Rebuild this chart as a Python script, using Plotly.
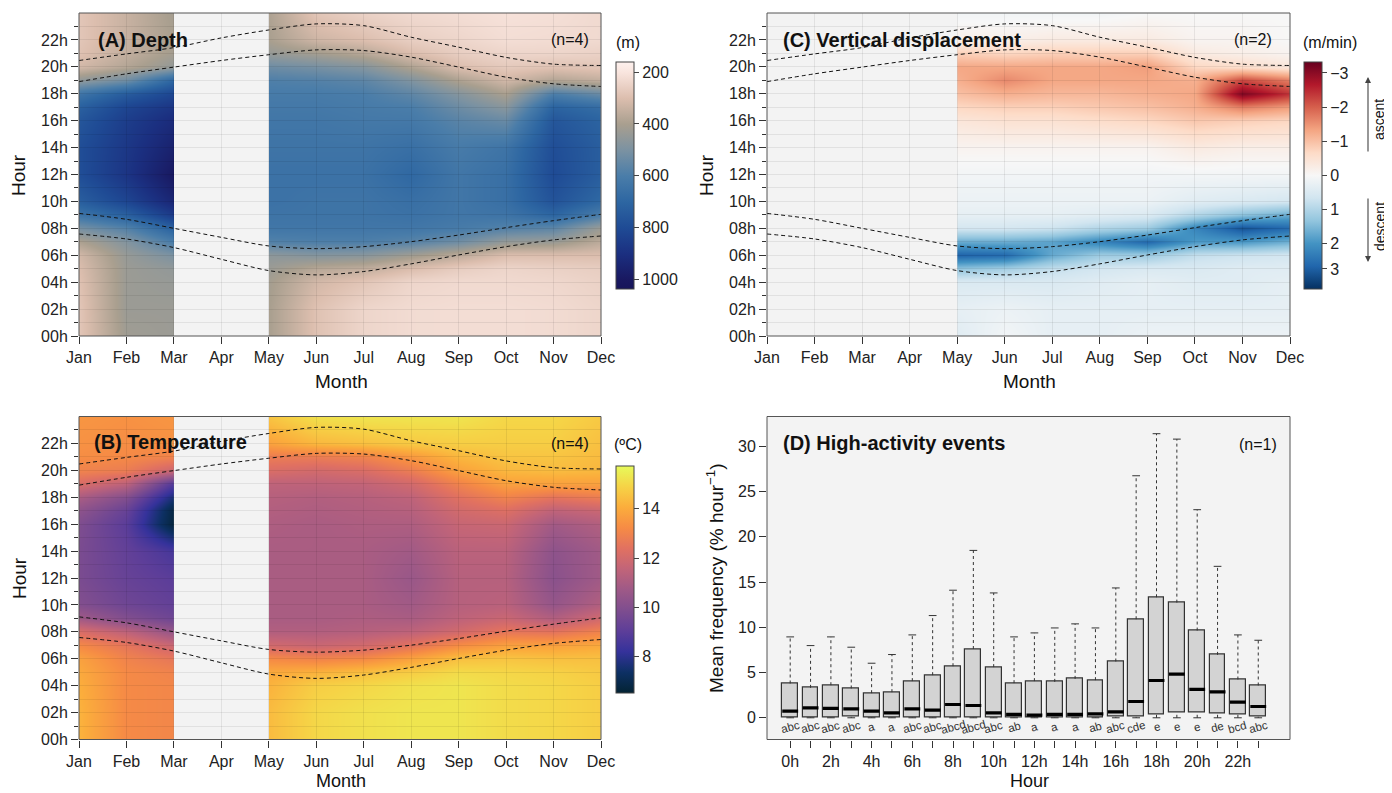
import plotly.graph_objects as go
from plotly.colors import diverging, cmocean

W, H = 1392, 793          # target window
OFF = 8                   # page margin around the figure
FW, FH = W - OFF, H - OFF # figure size
FONT = "Liberation Sans, Arial, Helvetica, sans-serif"
GRID = "rgba(0,0,0,0.07)"
BG = "#f3f3f3"

# ---------------- data ----------------
MONTHS = ["Jan", "Feb", "Mar", "Apr", "May", "Jun", "Jul", "Aug", "Sep", "Oct", "Nov", "Dec"]
MONTH_NUM = list(range(1, 13))
SEG1_MONTHS = [1, 2, 3]
SEG2_MONTHS = [5, 6, 7, 8, 9, 10, 11, 12]
HOURS = [0, 2, 4, 5, 6, 7, 8, 9, 10, 12, 14, 16, 17, 18, 19, 20, 21, 22, 24]
HOUR_TICKS = list(range(0, 24, 2))
HOUR_LABELS = ["%02dh" % h for h in HOUR_TICKS]

# twilight / sun curves (hour of day per month)
DUSK = [20.47, 20.96, 21.43, 22.15, 22.74, 23.19, 23.06, 22.2, 21.46, 20.7, 20.2, 20.1]
SUNSET = [18.9, 19.48, 19.98, 20.47, 20.9, 21.26, 21.21, 20.72, 19.98, 19.23, 18.74, 18.54]
DAWN = [9.11, 8.67, 8.0, 7.33, 6.69, 6.49, 6.64, 7.01, 7.5, 8.05, 8.57, 9.04]
SUNRISE = [7.58, 7.21, 6.57, 5.7, 4.86, 4.54, 4.79, 5.36, 6.02, 6.64, 7.14, 7.43]

# (A) depth (m): one row per month, values at HOURS
DEPTH_JAN_MAR = [
    [280, 280, 290, 300, 320, 390, 510, 640, 730, 790, 790, 760, 720, 640, 450, 320, 290, 280, 280],
    [420, 430, 430, 430, 440, 480, 580, 720, 820, 880, 870, 850, 820, 740, 520, 380, 350, 340, 340],
    [430, 430, 440, 450, 500, 600, 720, 860, 940, 1000, 960, 920, 880, 820, 700, 450, 410, 400, 410],
]
DEPTH_MAY_DEC = [
    [400, 400, 410, 430, 460, 580, 630, 640, 650, 650, 640, 630, 620, 610, 590, 530, 440, 400, 390],
    [290, 290, 320, 370, 480, 590, 630, 640, 640, 650, 640, 630, 620, 610, 580, 510, 410, 330, 280],
    [240, 240, 280, 350, 470, 590, 630, 640, 640, 650, 640, 620, 610, 600, 560, 480, 370, 300, 250],
    [225, 225, 240, 300, 420, 570, 630, 650, 660, 690, 660, 620, 600, 560, 490, 390, 300, 260, 230],
    [220, 220, 230, 260, 360, 520, 610, 630, 630, 630, 610, 570, 530, 480, 390, 300, 260, 240, 220],
    [220, 220, 230, 240, 300, 440, 580, 640, 660, 660, 640, 540, 470, 400, 320, 270, 240, 220, 210],
    [225, 225, 235, 250, 300, 430, 560, 700, 770, 800, 790, 760, 710, 600, 380, 290, 240, 225, 215],
    [240, 240, 250, 260, 300, 360, 430, 600, 690, 730, 730, 710, 670, 540, 350, 280, 250, 230, 230],
]

# (B) temperature (degC)
TEMP_JAN_MAR = [
    [14.2, 14.2, 14.1, 14.0, 13.8, 13.2, 12.2, 10.8, 10.0, 9.8, 9.8, 9.9, 10.3, 11.0, 12.2, 13.0, 13.3, 13.4, 13.5],
    [13.2, 13.2, 13.2, 13.2, 13.0, 12.6, 11.5, 10.0, 9.5, 9.3, 9.2, 9.0, 9.3, 10.0, 11.5, 12.8, 13.2, 13.3, 13.4],
    [13.1, 13.1, 13.1, 13.0, 12.6, 11.8, 10.5, 9.5, 9.2, 9.0, 8.6, 6.7, 6.8, 7.6, 8.8, 11.8, 13.0, 13.4, 13.5],
]
TEMP_MAY_DEC = [
    [14.4, 14.4, 14.2, 14.0, 13.2, 12.0, 11.2, 11.0, 11.0, 11.0, 11.0, 11.1, 11.2, 11.3, 11.5, 12.2, 12.8, 13.8, 14.6],
    [15.0, 15.0, 14.8, 14.2, 13.0, 11.8, 11.2, 11.0, 11.0, 11.0, 11.0, 11.0, 11.1, 11.2, 11.5, 12.0, 12.8, 14.3, 15.2],
    [15.2, 15.2, 15.0, 14.5, 13.2, 12.0, 11.3, 11.1, 11.0, 11.0, 11.0, 11.1, 11.2, 11.3, 11.6, 12.2, 13.0, 14.5, 15.3],
    [15.3, 15.3, 15.2, 14.8, 13.8, 12.5, 11.5, 11.0, 10.8, 10.6, 10.8, 11.1, 11.3, 11.5, 12.0, 12.8, 13.6, 14.7, 15.3],
    [15.3, 15.3, 15.3, 15.1, 14.5, 13.3, 12.0, 11.5, 11.3, 11.3, 11.4, 11.7, 12.0, 12.4, 13.0, 13.8, 14.3, 14.8, 15.3],
    [15.1, 15.1, 15.1, 15.0, 14.6, 13.8, 12.6, 11.8, 11.4, 11.3, 11.4, 11.8, 12.3, 13.0, 13.8, 14.3, 14.6, 14.8, 15.0],
    [15.0, 15.0, 15.0, 14.9, 14.5, 13.8, 12.5, 11.2, 10.5, 10.2, 10.3, 10.8, 11.5, 12.5, 13.8, 14.4, 14.6, 14.8, 15.0],
    [14.8, 14.8, 14.8, 14.7, 14.5, 14.0, 13.0, 12.0, 11.2, 10.8, 10.8, 11.2, 11.8, 12.8, 13.8, 14.3, 14.4, 14.5, 14.7],
]

# (C) vertical displacement (m/min), negative = ascent
VERT_MAY_DEC = [
    [0.4, 0.3, 0.5, 1.3, 2.7, 1.7, 0.6, 0.3, 0.2, 0.1, -0.1, -0.4, -0.7, -1.0, -1.2, -1.3, -0.8, -0.2, 0.1],
    [0.1, 0.2, 0.5, 1.1, 2.6, 1.7, 0.6, 0.3, 0.2, 0.1, -0.1, -0.5, -0.8, -1.2, -1.6, -1.3, -0.7, -0.2, 0.1],
    [0.3, 0.3, 0.5, 0.8, 1.7, 1.8, 0.7, 0.3, 0.2, 0.1, -0.1, -0.5, -0.8, -1.1, -1.3, -1.3, -0.8, -0.3, 0.1],
    [0.3, 0.3, 0.4, 0.6, 1.2, 2.2, 1.0, 0.4, 0.2, 0.1, -0.1, -0.6, -0.9, -1.1, -1.3, -1.3, -0.8, -0.3, 0.1],
    [0.2, 0.3, 0.3, 0.5, 1.2, 2.6, 1.2, 0.5, 0.2, 0.1, -0.1, -0.7, -1.0, -1.2, -1.3, -1.4, -0.8, -0.3, 0.0],
    [0.2, 0.3, 0.4, 0.5, 0.8, 1.9, 2.2, 1.0, 0.4, 0.1, -0.3, -0.9, -1.2, -1.3, -1.2, -0.7, -0.3, -0.1, 0.0],
    [0.2, 0.3, 0.4, 0.4, 0.7, 1.9, 2.9, 1.4, 0.5, 0.1, -0.2, -0.8, -1.7, -3.1, -2.2, -0.6, -0.2, -0.1, 0.0],
    [0.2, 0.3, 0.3, 0.4, 0.6, 1.6, 2.6, 1.7, 0.6, 0.1, -0.2, -0.7, -1.4, -2.4, -1.7, -0.4, -0.1, 0.0, 0.0],
]

# (D) high-activity events box statistics per hour
BOX_HOURS = list(range(24))
LOWER = [0.0] * 24
Q1 = [0.05, 0.05, 0.05, 0.1, 0.05, 0.05, 0.05, 0.05, 0.05, 0.05, 0.05, 0.05,
      0.05, 0.05, 0.05, 0.05, 0.1, 0.1, 0.37, 0.63, 0.63, 0.48, 0.33, 0.11]
MEDIAN = [0.74, 1.1, 1.03, 0.99, 0.74, 0.55, 0.99, 0.85, 1.47, 1.36, 0.55, 0.37,
          0.3, 0.37, 0.37, 0.44, 0.66, 1.8, 4.12, 4.82, 3.13, 2.87, 1.73, 1.25]
Q3 = [3.79, 3.31, 3.6, 3.24, 2.72, 2.83, 4.05, 4.71, 5.7, 7.6, 5.6, 3.83,
      4.05, 3.97, 4.3, 4.16, 6.22, 10.89, 13.32, 12.73, 9.64, 6.95, 4.23, 3.57]
UPPER = [8.94, 7.98, 8.94, 7.8, 6.03, 6.99, 9.16, 11.3, 14.1, 18.5, 13.8, 8.94,
         9.38, 9.93, 10.38, 9.93, 14.35, 26.75, 31.4, 30.8, 23.0, 16.74, 9.16, 8.57]
GROUPS = ["abc", "abc", "abc", "abc", "a", "a", "abc", "abc", "abcd", "abcd", "abc", "ab",
          "a", "a", "a", "ab", "abc", "cde", "e", "e", "e", "de", "bcd", "abc"]

# ---------------- helpers ----------------
def fx(p):
    return (p - OFF) / FW


def fy(p):
    return 1 - (p - OFF) / FH


def to_grid(cols, sign=1.0):
    return [[sign * col[j] for col in cols] for j in range(len(HOURS))]


DEPTH_SCALE = [[0.0, "#17145a"], [0.04, "#191860"], [0.154, "#1b2f80"], [0.269, "#1f4b95"],
               [0.383, "#2d66a2"], [0.497, "#4a7da9"], [0.611, "#7b92a2"], [0.726, "#a99f8f"],
               [0.84, "#dcbeae"], [0.954, "#f9e5de"], [1.0, "#fdf1ee"]]
rdbu_r = diverging.RdBu[::-1]
VERT_SCALE = [[i / (len(rdbu_r) - 1), c] for i, c in enumerate(rdbu_r)]
TEMP_SCALE = cmocean.thermal

PA = dict(x=(79, 601), y=(13, 336))
PC = dict(x=(767, 1290), y=(13, 336))
PB = dict(x=(79, 601), y=(416.5, 739.5))
PD = dict(x=(767, 1290), y=(416.5, 739.5))


def xdom(p):
    return [fx(p["x"][0]), fx(p["x"][1])]


def ydom(p):
    return [fy(p["y"][1]), fy(p["y"][0])]


def seg_dom(p, m0, m1):
    a, b = xdom(p)
    return [a + (b - a) * (m0 - 1) / 11, a + (b - a) * (m1 - 1) / 11]


tickfont = dict(size=16, family=FONT, color="#222")

fig = go.Figure()
layout = {}


def month_axis(p, anchor):
    # visible main axis; drawn in the top-most subplot so its grid sits over the heat maps
    return dict(domain=xdom(p), range=[1, 12], anchor=anchor, tickmode="array",
                tickvals=MONTH_NUM, ticktext=MONTHS, ticks="outside", ticklen=7,
                tickcolor="#333", showgrid=True, gridcolor=GRID, gridwidth=1,
                zeroline=False, showline=False, tickfont=tickfont, automargin=False)


def hour_axis(p, anchor):
    return dict(domain=ydom(p), range=[0, 24], anchor=anchor, tickmode="array",
                tickvals=HOUR_TICKS, ticktext=HOUR_LABELS, ticks="outside", ticklen=7,
                tickcolor="#333", showgrid=True, gridcolor=GRID, gridwidth=1,
                minor=dict(tickmode="linear", tick0=1, dtick=2, ticks="outside", ticklen=4,
                           tickcolor="#333", showgrid=True, gridcolor=GRID, gridwidth=1),
                zeroline=False, showline=False, tickfont=tickfont, automargin=False)


def hidden_axis(p, m0, m1, anchor):
    return dict(domain=seg_dom(p, m0, m1), range=[m0, m1], anchor=anchor, visible=False,
                automargin=False)


def add_heat(months, cols, sign, xa, ya, cax):
    fig.add_trace(go.Heatmap(x=months, y=HOURS, z=to_grid(cols, sign), zsmooth="best",
                             coloraxis=cax, xaxis=xa, yaxis=ya, hoverinfo="skip"))


def add_curves(xa, ya):
    for series in (DUSK, SUNSET, DAWN, SUNRISE):
        fig.add_trace(go.Scatter(x=MONTH_NUM, y=series, mode="lines",
                                 line=dict(color="#111", width=1, dash="4px,3px",
                                           shape="spline", smoothing=0.8),
                                 xaxis=xa, yaxis=ya, hoverinfo="skip", showlegend=False))


# hidden segment axes (drawn first): x, x2 (A), x3 (C), x4, x5 (B)
layout["xaxis"] = hidden_axis(PA, 1, 3, "y")
layout["xaxis2"] = hidden_axis(PA, 5, 12, "y")
layout["xaxis3"] = hidden_axis(PC, 5, 12, "y2")
layout["xaxis4"] = hidden_axis(PB, 1, 3, "y3")
layout["xaxis5"] = hidden_axis(PB, 5, 12, "y3")
# visible main axes (drawn on top): x6 (A), x7 (C), x8 (B), x9 (D)
layout["xaxis6"] = month_axis(PA, "y")
layout["xaxis7"] = month_axis(PC, "y2")
layout["xaxis8"] = month_axis(PB, "y3")
layout["yaxis"] = hour_axis(PA, "x6")
layout["yaxis2"] = hour_axis(PC, "x7")
layout["yaxis3"] = hour_axis(PB, "x8")

add_heat(SEG1_MONTHS, DEPTH_JAN_MAR, -1.0, "x", "y", "coloraxis")
add_heat(SEG2_MONTHS, DEPTH_MAY_DEC, -1.0, "x2", "y", "coloraxis")
add_heat(SEG2_MONTHS, VERT_MAY_DEC, -1.0, "x3", "y2", "coloraxis2")
add_heat(SEG1_MONTHS, TEMP_JAN_MAR, 1.0, "x4", "y3", "coloraxis3")
add_heat(SEG2_MONTHS, TEMP_MAY_DEC, 1.0, "x5", "y3", "coloraxis3")
add_curves("x6", "y")
add_curves("x7", "y2")
add_curves("x8", "y3")

# Panel D: boxes
BW = 0.39
CAP = 0.19
wx, wy, cx, cy, mx, my = [], [], [], [], [], []
for i, h in enumerate(BOX_HOURS):
    wx += [h, h, None, h, h, None]
    wy += [Q3[i], UPPER[i], None, LOWER[i], Q1[i], None]
    cx += [h - CAP, h + CAP, None, h - CAP, h + CAP, None]
    cy += [UPPER[i], UPPER[i], None, LOWER[i], LOWER[i], None]
    mx += [h - BW, h + BW, None]
    my += [MEDIAN[i], MEDIAN[i], None]

fig.add_trace(go.Scatter(x=wx, y=wy, mode="lines", line=dict(color="#333", width=1, dash="3px,3px"),
                         xaxis="x9", yaxis="y4", hoverinfo="skip", showlegend=False))
fig.add_trace(go.Scatter(x=cx, y=cy, mode="lines", line=dict(color="#333", width=1),
                         xaxis="x9", yaxis="y4", hoverinfo="skip", showlegend=False))
fig.add_trace(go.Bar(x=BOX_HOURS, y=[Q3[i] - Q1[i] for i in range(24)], base=Q1, width=2 * BW,
                     marker=dict(color="#d3d3d3", line=dict(color="#333", width=1.2)),
                     xaxis="x9", yaxis="y4", hoverinfo="skip", showlegend=False))
fig.add_trace(go.Scatter(x=mx, y=my, mode="lines", line=dict(color="#000", width=3.2),
                         xaxis="x9", yaxis="y4", hoverinfo="skip", showlegend=False))

layout["xaxis9"] = dict(domain=xdom(PD), range=[-1.14, 24.56], anchor="y4", tickmode="array",
                        tickvals=BOX_HOURS, ticktext=[("%dh" % h) if h % 2 == 0 else "" for h in BOX_HOURS],
                        ticks="outside", ticklen=7, tickcolor="#333", showgrid=False, zeroline=False,
                        showline=False, tickfont=tickfont, automargin=False)
layout["yaxis4"] = dict(domain=ydom(PD), range=[-2.4, 33.3], anchor="x9", tickmode="array",
                        tickvals=[0, 5, 10, 15, 20, 25, 30], ticks="outside", ticklen=7, tickcolor="#333",
                        showgrid=False, zeroline=False, showline=False, tickfont=tickfont, automargin=False)

# colour axes
cb_common = dict(thickness=18, thicknessmode="pixels", lenmode="pixels", len=226.6, xpad=0, ypad=0,
                 outlinecolor="#444", outlinewidth=1, ticks="outside", ticklen=5, tickcolor="#444",
                 tickfont=tickfont, xanchor="left", yanchor="top", tickmode="array")
layout["coloraxis"] = dict(colorscale=DEPTH_SCALE, cmin=-1035, cmax=-160,
                           colorbar=dict(cb_common, x=fx(616), y=fy(61.7),
                                         tickvals=[-200, -400, -600, -800, -1000],
                                         ticktext=["200", "400", "600", "800", "1000"]))
layout["coloraxis2"] = dict(colorscale=VERT_SCALE, cmin=-3.33, cmax=3.33,
                            colorbar=dict(cb_common, x=fx(1303.5), y=fy(61.7),
                                          tickvals=[3, 2, 1, 0, -1, -2, -2.75],
                                          ticktext=["\u22123", "\u22122", "\u22121", "0", "1", "2", "3"]))
layout["coloraxis3"] = dict(colorscale=TEMP_SCALE, cmin=6.54, cmax=15.75,
                            colorbar=dict(cb_common, x=fx(616), y=fy(465.7),
                                          tickvals=[8, 10, 12, 14], ticktext=["8", "10", "12", "14"]))

# backgrounds and frames
shapes = []
for p in (PA, PC, PB, PD):
    shapes.append(dict(type="rect", xref="paper", yref="paper", x0=fx(p["x"][0]), x1=fx(p["x"][1]),
                       y0=fy(p["y"][1]), y1=fy(p["y"][0]), fillcolor=BG, line=dict(width=0), layer="below"))
    shapes.append(dict(type="rect", xref="paper", yref="paper", x0=fx(p["x"][0]), x1=fx(p["x"][1]),
                       y0=fy(p["y"][1]), y1=fy(p["y"][0]), line=dict(color="#555", width=1), layer="above"))

# annotations
ann = []


def text(t, x, y, size=15, bold=False, xanchor="center", angle=0, color="#111"):
    ann.append(dict(text=("<b>%s</b>" % t) if bold else t, x=fx(x), y=fy(y), xref="paper", yref="paper",
                    showarrow=False, xanchor=xanchor, yanchor="middle", textangle=angle,
                    font=dict(size=size, family=FONT, color=color)))


text("(A) Depth", 96, 40, size=20, bold=True, xanchor="left")
text("(n=4)", 591, 40, size=16, xanchor="right")
text("(C) Vertical displacement", 781, 40, size=20, bold=True, xanchor="left")
text("(n=2)", 1274, 40, size=16, xanchor="right")
text("(B) Temperature", 92, 442, size=20, bold=True, xanchor="left")
text("(n=4)", 591, 443, size=16, xanchor="right")
text("(D) High-activity events", 781, 443, size=20, bold=True, xanchor="left")
text("(n=1)", 1279, 444, size=16, xanchor="right")

text("Hour", 19, 175, size=19, angle=-90)
text("Month", 341, 381, size=19)
text("Hour", 707, 175, size=19, angle=-90)
text("Month", 1029, 381, size=19)
text("Hour", 19, 578, size=19, angle=-90)
text("Month", 341, 781, size=18)
text("Mean frequency (% hour<sup>\u22121</sup>)", 715, 578, size=19, angle=-90)
text("Hour", 1029, 781, size=18)

text("(m)", 628, 43, size=16)
text("(m/min)", 1330, 43, size=16)
text("(\u00baC)", 628, 444, size=16)

text("ascent", 1379, 120, size=14, angle=-90)
text("descent", 1380, 227, size=14, angle=-90)
for (x, yh, yt) in ((1368, 77, 153), (1368, 262, 197)):
    ann.append(dict(text="", x=fx(x), y=fy(yh), ax=0, ay=yt - yh, xref="paper", yref="paper",
                    axref="pixel", ayref="pixel", showarrow=True, arrowhead=2, arrowsize=1.1,
                    arrowwidth=1.1, arrowcolor="#444", standoff=0, startstandoff=0))

for i, h in enumerate(BOX_HOURS):
    ann.append(dict(text=GROUPS[i], x=h, y=-1.05, xref="x9", yref="y4", showarrow=False,
                    textangle=-15, font=dict(size=11.5, family=FONT, color="#333")))

fig.update_layout(layout)
fig.update_layout(width=FW, height=FH, autosize=False,
                  margin=dict(l=0, r=0, t=0, b=0, pad=0, autoexpand=False),
                  paper_bgcolor="white", plot_bgcolor="rgba(0,0,0,0)", showlegend=False,
                  hovermode=False, bargap=0, shapes=shapes, annotations=ann,
                  font=dict(family=FONT, color="#222"))

fig.write_html("out.html")
